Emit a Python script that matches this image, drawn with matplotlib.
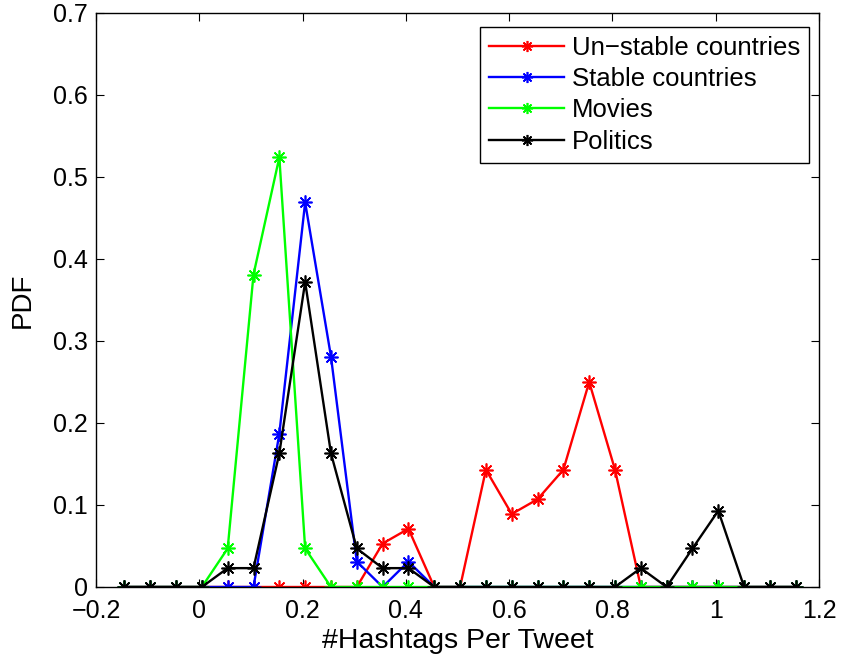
import numpy as np
import matplotlib
matplotlib.use("Agg")
import matplotlib.pyplot as plt

plt.rcParams['font.family'] = ['Liberation Sans', 'DejaVu Sans']

# bin centres of the hashtag-per-tweet histogram
x = np.round(np.arange(27) * 0.05 - 0.145, 3)

unstable = [0, 0, 0, 0, 0, 0, 0, 0, 0, 0, 0.053, 0.071, 0, 0,
            0.143, 0.089, 0.107, 0.143, 0.250, 0.143, 0, 0, 0, 0, 0, 0, 0]
stable = [0, 0, 0, 0, 0, 0, 0.187, 0.469, 0.281, 0.031, 0, 0.031, 0, 0,
          0, 0, 0, 0, 0, 0, 0, 0, 0, 0, 0, 0, 0]
movies = [0, 0, 0, 0, 0.047, 0.381, 0.524, 0.047, 0, 0, 0, 0, 0, 0,
          0, 0, 0, 0, 0, 0, 0, 0, 0, 0, 0, 0, 0]
politics = [0, 0, 0, 0, 0.023, 0.023, 0.163, 0.372, 0.163, 0.047, 0.023, 0.023, 0, 0,
            0, 0, 0, 0, 0, 0, 0.023, 0, 0.047, 0.093, 0, 0, 0]

series = [
    ("Un\u2212stable countries", unstable, (1, 0, 0)),
    ("Stable countries", stable, (0, 0, 1)),
    ("Movies", movies, (0, 1, 0)),
    ("Politics", politics, (0, 0, 0)),
]

fig = plt.figure(figsize=(8.42, 6.62), dpi=100)
ax = fig.add_axes([0.114, 0.1133, 0.8587, 0.8671])

for label, y, c in series:
    ax.plot(x, y, color=c, lw=1.7, marker=(8, 2, 0), markersize=10,
            markeredgewidth=1.2, label=label)

ax.set_xlim(-0.2, 1.2)
ax.set_ylim(0, 0.7)
ax.set_xticks(np.arange(-0.2, 1.21, 0.2))
ax.set_xticklabels(["\u22120.2", "0", "0.2", "0.4", "0.6", "0.8", "1", "1.2"])
ax.set_yticks(np.arange(0, 0.71, 0.1))
ax.set_yticklabels(["0", "0.1", "0.2", "0.3", "0.4", "0.5", "0.6", "0.7"])
ax.tick_params(direction='in', labelsize=18, length=6, width=0.8,
               top=True, right=True)
ax.tick_params(axis='x', pad=9)
ax.tick_params(axis='y', pad=6)
for s in ax.spines.values():
    s.set_linewidth(1.0)

ax.set_xlabel("#Hashtags Per Tweet", fontsize=20.5, labelpad=3)
ax.set_ylabel("PDF", fontsize=20, labelpad=12)

leg = ax.legend(loc='upper right', bbox_to_anchor=(0.986, 0.9756),
                fontsize=18.5, fancybox=False, framealpha=1,
                edgecolor='black', handlelength=2.9, handletextpad=0.3,
                labelspacing=0.28, borderpad=0.35, borderaxespad=0,
                markerscale=0.8)
leg.get_frame().set_linewidth(1.0)

fig.savefig("out.png", dpi=100)
